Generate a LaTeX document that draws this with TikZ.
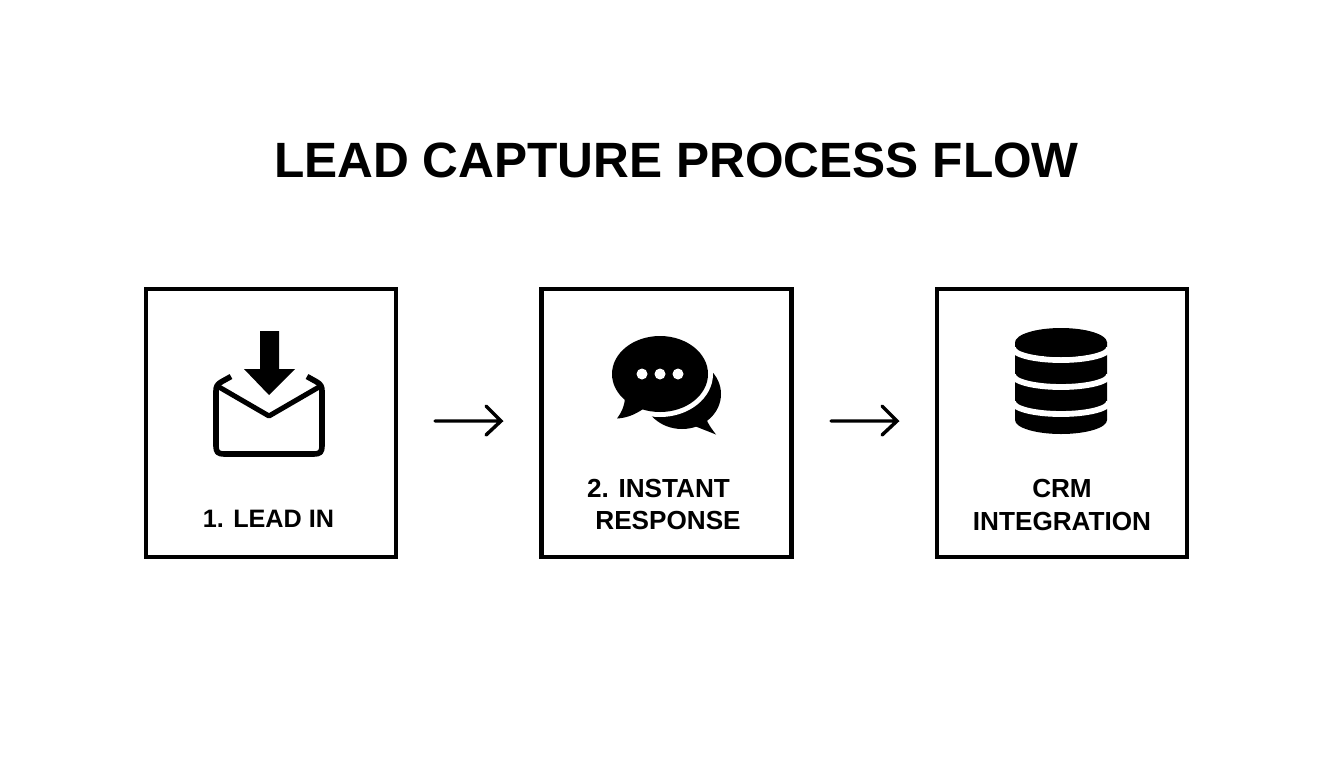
\documentclass[tikz,border=0pt]{standalone}
\usepackage{fontspec}
\setmainfont{Liberation Sans}
\tikzset{
  panel/.style={draw, line width=3.2pt, minimum width=187.5pt, minimum height=201pt, inner sep=0pt},
  caption/.style={inner sep=0pt, font=\fontsize{19.6}{20}\selectfont\bfseries},
  flowarrow/.style={line width=2.6pt, line cap=round},
  iconline/.style={line width=3.8pt, line cap=round, line join=round}
}
\begin{document}
\begin{tikzpicture}[x=.75pt, y=-.75pt]
    \useasboundingbox (0, 0) rectangle (1344, 768);
    \node[inner sep=0pt, font=\fontsize{37.2}{38}\selectfont\bfseries] (title) at (676.5, 160) {LEAD CAPTURE PROCESS FLOW};

    % the three panels
    \node[panel] (leadbox) at (271, 423) {};
    \node[panel] (replybox) at (666.5, 423) {};
    \node[panel] (crmbox) at (1062, 423) {};

    \node[caption, font=\fontsize{18.9}{19}\selectfont\bfseries] (leadtext) at (268.5, 519) {1. LEAD IN};
    \node[caption] (replytexta) at (658.5, 488) {2. INSTANT};
    \node[caption] (replytextb) at (668, 520) {RESPONSE};
    \node[caption] (crmtexta) at (1062, 488) {CRM};
    \node[caption] (crmtextb) at (1062, 521) {INTEGRATION};

    % arrows between panels
    \coordinate (gapa) at (435, 421);
    \coordinate (gapb) at (831, 421);
    \coordinate (gapaend) at (501, 421);
    \coordinate (gapbend) at (897, 421);
    \draw[flowarrow] (gapa) -- (gapaend) (486, 406) -- (gapaend) -- (486, 435);
    \draw[flowarrow] (gapb) -- (gapbend) (882, 406) -- (gapbend) -- (882, 435);

    % envelope
    \fill[line join=round] (260, 331) -- (279, 331) -- (279, 369) -- (295, 369) -- (269, 395) -- (244, 369) -- (260, 369) -- cycle;
    \draw[line width=4.2pt, line join=round] (231, 376.5) -- (222, 381.5) .. controls (217, 384) and (216, 387) .. (216, 391) -- (216, 446)
        .. controls (216, 452) and (218, 454) .. (224, 454) -- (314, 454) .. controls (320, 454) and (322, 452) .. (322, 446)
        -- (322, 391) .. controls (322, 387) and (321, 384) .. (316, 381.5) -- (307, 376.5);
    \draw[iconline] (219, 387) -- (269, 416) -- (319, 387);

    % chat bubbles
    \fill (682, 394) ellipse [x radius=39, y radius=35];
    \fill (692, 425) -- (716, 434.5) .. controls (711, 428) and (708, 424) .. (706, 418) -- cycle;
    \fill[white] (660, 374) ellipse [x radius=53, y radius=43];
    \fill (660, 374) ellipse [x radius=48, y radius=38];
    \fill (625, 396) .. controls (625, 406) and (621, 413) .. (617, 418.5) .. controls (627, 418) and (636, 414) .. (643, 409) -- cycle;
    \foreach \dotx in {642, 660, 678}
        \fill[white] (\dotx, 374) circle [radius=5.5];

    % database
    \fill (1015, 342) -- (1015, 420) arc [start angle=180, end angle=0, x radius=46, y radius=14] -- (1107, 342) -- cycle;
    \foreach \bandy in {348, 375, 402}
        \draw[white, line width=4.4pt] (1013, \bandy) arc [start angle=180, end angle=0, x radius=48, y radius=12];
    \fill (1061, 342.5) ellipse [x radius=46, y radius=14.5];
\end{tikzpicture}
\end{document}
